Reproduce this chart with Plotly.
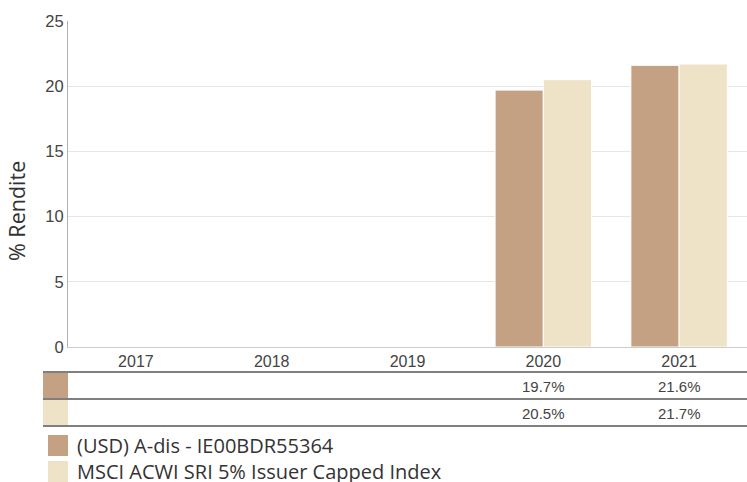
import plotly.graph_objects as go

years = ["2017", "2018", "2019", "2020", "2021"]
fund = [None, None, None, 19.7, 21.6]
index = [None, None, None, 20.5, 21.7]
names = ["(USD) A-dis - IE00BDR55364", "MSCI ACWI SRI 5% Issuer Capped Index"]
colors = ["#C4A182", "#EEE2C7"]
y_ticks = [0, 5, 10, 15, 20, 25]

W, H = 747, 482
L, R, T, B = 68, 0, 21, 135
pw = W - L - R
ph = H - T - B

def px_x(px):
    return (px - L) / pw

def px_y(py):
    return (H - B - py) / ph

fig = go.Figure()
for vals, name, col in zip([fund, index], names, colors):
    fig.add_trace(go.Bar(x=years, y=vals, name=name, marker_color=col,
                         marker_line_color="white", marker_line_width=1,
                         showlegend=False))

shapes = []
annotations = []
# table rows
row_tops = [372, 399, 426]
for py in row_tops:
    shapes.append(dict(type="line", xref="paper", yref="paper",
                       x0=px_x(43), x1=1, y0=px_y(py), y1=px_y(py),
                       line=dict(color="#555555", width=1.5)))
row_text_y = [386.5, 413]
for i, (vals, col) in enumerate(zip([fund, index], colors)):
    top = row_tops[i] + 1
    bot = row_tops[i + 1] - 1
    shapes.append(dict(type="rect", xref="paper", yref="paper",
                       x0=px_x(43), x1=px_x(68), y0=px_y(bot), y1=px_y(top),
                       fillcolor=col, line=dict(width=0)))
    yc = px_y(row_text_y[i])
    for k, v in enumerate(vals):
        if v is None:
            continue
        annotations.append(dict(x=k, xref="x", y=yc, yref="paper",
                                text=f"{v:.1f}%", showarrow=False,
                                font=dict(family="Arial", size=15, color="#444444"),
                                xanchor="center", yanchor="middle"))

# legend
leg_y = [445.5, 471.5]
for name, col, cy in zip(names, colors, leg_y):
    shapes.append(dict(type="rect", xref="paper", yref="paper",
                       x0=px_x(48), x1=px_x(68), y0=px_y(cy + 10.5), y1=px_y(cy - 10.5),
                       fillcolor=col, line=dict(width=0)))
    annotations.append(dict(x=px_x(75), xref="paper", y=px_y(cy), yref="paper",
                            text=name, showarrow=False, xanchor="left", yanchor="middle",
                            font=dict(family="Open Sans", size=20, color="#333333")))

# y-axis title
annotations.append(dict(x=px_x(16), xref="paper", y=px_y(211), yref="paper",
                        text="% Rendite", textangle=-90, showarrow=False,
                        xanchor="center", yanchor="middle",
                        font=dict(family="Open Sans", size=21.5, color="#333333")))

fig.update_layout(
    width=W, height=H,
    margin=dict(l=L, r=R, t=T, b=B, autoexpand=False),
    paper_bgcolor="white", plot_bgcolor="white",
    barmode="group", bargap=0.29, bargroupgap=0.0,
    shapes=shapes, annotations=annotations,
    font=dict(family="Arial", color="#444444"),
    xaxis=dict(type="category", categoryorder="array", categoryarray=years,
               range=[-0.5, len(years) - 0.5],
               showgrid=False, showline=True, linecolor="#cccccc", linewidth=1,
               ticks="", automargin=False,
               tickfont=dict(family="Arial", size=16, color="#444444")),
    yaxis=dict(range=[0, 25], tickvals=y_ticks, showgrid=True, gridcolor="#e6e6e6",
               showline=True, linecolor="#b0b0b0", linewidth=1, zeroline=False,
               ticks="", automargin=False,
               tickfont=dict(family="Arial", size=16.5, color="#444444")),
)

fig.write_html("out.html", config={"displayModeBar": False},
               post_script="document.body.style.margin='0';document.body.style.overflow='hidden';")
